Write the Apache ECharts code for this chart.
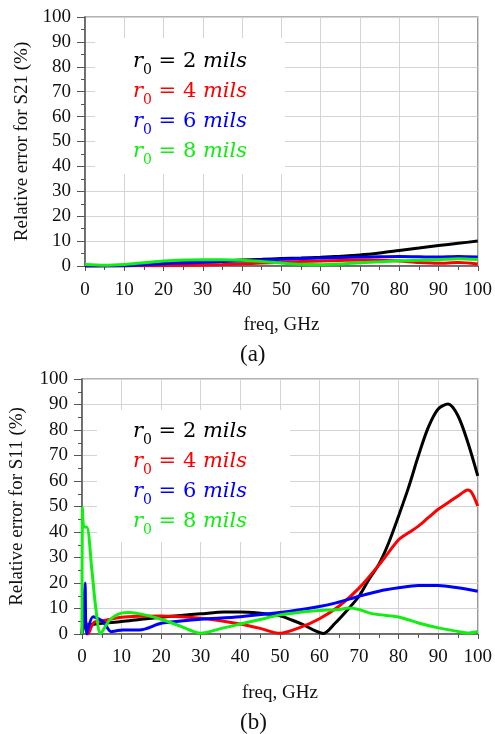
<!DOCTYPE html>
<html>
<head>
<meta charset="utf-8">
<script src="https://cdn.jsdelivr.net/npm/echarts@6/dist/echarts.min.js"></script>
<style>
html,body{margin:0;padding:0;background:#fff;}
#main{width:495px;height:734px;}
</style>
</head>
<body>
<div id="main"></div>
<script>
// ---------- DATA ----------
var seriesNames = ['r0 = 2 mils', 'r0 = 4 mils', 'r0 = 6 mils', 'r0 = 8 mils'];
var radiusLabels = ['2', '4', '6', '8'];
var seriesColors = ['#000000', '#ff0000', '#0000ff', '#11ee11'];
var xTicks = [0, 10, 20, 30, 40, 50, 60, 70, 80, 90, 100];

// (a) S21 relative error
var s21Freq = [0, 5, 10, 15, 20, 25, 30, 35, 40, 45, 50, 55, 60, 65, 70, 75, 80, 85, 90, 95, 100];
var s21_r2 = [0, 0.1, 0.3, 0.6, 1.0, 1.3, 1.6, 2.0, 2.4, 2.7, 3.0, 3.2, 3.5, 3.9, 4.4, 5.2, 6.2, 7.2, 8.2, 9.1, 10.0];
var s21_r4 = [0, 0, 0, 0.1, 0.2, 0.3, 0.4, 0.6, 0.9, 1.2, 1.5, 1.8, 2.0, 2.2, 2.4, 2.3, 2.0, 1.4, 1.1, 1.4, 0.8];
var s21_r6 = [0, 0, 0.1, 0.5, 0.9, 1.2, 1.5, 1.8, 2.1, 2.4, 2.7, 3.0, 3.2, 3.4, 3.6, 3.7, 3.8, 3.7, 3.6, 3.8, 3.6];
var s21_r8 = [0.6, 0.3, 0.6, 1.3, 2.0, 2.4, 2.5, 2.5, 2.3, 1.8, 1.2, 0.7, 0.5, 0.8, 1.3, 1.7, 2.1, 2.3, 2.5, 2.9, 2.6];

// (b) S11 relative error
var s11_r2_freq = [0, 0.5, 1, 3, 5, 10, 15, 20, 25, 30, 36, 40, 44.5, 50, 53, 56, 59, 61, 64, 67.5, 70, 72.5, 75, 77.5, 80, 82.5, 85, 87.5, 90, 92.5, 95, 97.5, 100];
var s11_r2 = [0, 3, 3.5, 3.8, 4.2, 4.9, 5.8, 6.6, 7.3, 7.9, 8.6, 8.6, 8.2, 7.1, 5.5, 3.6, 1.2, 0.2, 4.3, 10.2, 14.8, 21.4, 27.3, 35.8, 46.3, 57.4, 69.9, 81, 88.2, 90.2, 85.6, 75.1, 62];
var s11_r4_freq = [0, 0.4, 1, 1.5, 3, 5, 10, 15, 20, 25, 30, 35, 40, 45, 50, 55, 60, 65, 70, 75, 80, 82.5, 85, 87.5, 90, 92.5, 95, 97.5, 98.5, 100];
var s11_r4 = [0, 5.5, 4.5, 0, 4.5, 5.1, 6.6, 7, 7.1, 6.8, 6.2, 5.2, 3.9, 2.2, 0.3, 2.5, 6, 11, 18, 27, 37, 39.7, 42.3, 45.6, 48.9, 51.5, 54.1, 56.5, 55.4, 50.2];
var s11_r6_freq = [0, 0.75, 1.2, 2.8, 5.3, 7.4, 8.5, 10.3, 14.5, 20, 25, 30, 40, 50, 60, 64.2, 70, 75, 80, 85, 90, 95, 100];
var s11_r6 = [0, 20, 0, 6.8, 4.9, 0.9, 1.2, 1.6, 1.6, 4.2, 5.1, 5.8, 6.8, 8.4, 10.8, 12.2, 14.8, 16.8, 18.1, 19, 19, 18.1, 16.8];
var s11_r8_freq = [0, 0.1, 0.5, 1.2, 2.5, 3.5, 4.7, 7, 10, 12, 15, 20, 25, 30, 35, 40, 45, 50, 55, 60, 65, 67.5, 70, 72.5, 75, 80, 85, 90, 95, 97.5, 100];
var s11_r8 = [0, 49.5, 42, 42, 25, 10, 0.3, 5.5, 8.2, 8.4, 7.8, 5.8, 3, 0.3, 2.1, 3.9, 5.7, 7.5, 8.5, 9.2, 9.6, 10.2, 9.6, 8.3, 7.6, 6.7, 4.3, 2.4, 1, 0.4, 1];

// ---------- BUILD ----------
function pairs(xs, ys) { return xs.map(function (x, i) { return [x, ys[i]]; }); }

var topSets = [
  pairs(s21Freq, s21_r2), pairs(s21Freq, s21_r4), pairs(s21Freq, s21_r6), pairs(s21Freq, s21_r8)
];
var bottomSets = [
  pairs(s11_r2_freq, s11_r2), pairs(s11_r4_freq, s11_r4), pairs(s11_r6_freq, s11_r6), pairs(s11_r8_freq, s11_r8)
];

var serif = '"Liberation Serif", "Times New Roman", serif';
var mathFont = '"DejaVu Serif", serif';

function makeX(gi, gap, margin) {
  return {
    type: 'value', gridIndex: gi, min: 0, max: 100, interval: 10,
    name: 'freq, GHz', nameLocation: 'middle', nameGap: gap,
    nameTextStyle: { fontFamily: serif, fontSize: 19, color: '#111' },
    axisLine: { show: true, lineStyle: { color: '#555', width: 1.5 } },
    axisTick: { show: true, inside: false, length: 5, lineStyle: { color: '#555' } },
    minorTick: { show: true, splitNumber: 2, length: 4, lineStyle: { color: '#555' } },
    axisLabel: { fontFamily: serif, fontSize: 19, color: '#111', margin: margin,
      formatter: function (v) { return xTicks.indexOf(v) >= 0 ? String(v) : ''; } },
    splitLine: { show: true, lineStyle: { color: '#d4d4d4', width: 1 } }
  };
}
function makeY(gi, name, gap) {
  return {
    type: 'value', gridIndex: gi, min: 0, max: 100, interval: 10,
    name: name, nameLocation: 'middle', nameGap: gap, nameRotate: 90,
    nameTextStyle: { fontFamily: serif, fontSize: 19, color: '#111' },
    axisLine: { show: true, lineStyle: { color: '#555', width: 1.5 } },
    axisTick: { show: true, inside: false, length: 8, lineStyle: { color: '#555' } },
    minorTick: { show: true, splitNumber: 2, length: 4, lineStyle: { color: '#555' } },
    axisLabel: { fontFamily: serif, fontSize: 19, color: '#111', margin: 14 },
    splitLine: { show: true, lineStyle: { color: '#d4d4d4', width: 1 } }
  };
}

var rich = {
  i: { fontFamily: mathFont, fontStyle: 'italic', fontSize: 21, lineHeight: 30 },
  n: { fontFamily: mathFont, fontSize: 21, lineHeight: 30 },
  s: { fontFamily: mathFont, fontSize: 14, lineHeight: 16, verticalAlign: 'bottom' }
};
function legendFormatter(name) {
  var k = seriesNames.indexOf(name);
  return '{i|r}{s|0}{n| = ' + radiusLabels[k] + ' }{i|mils}';
}
function makeLegend(left, top, padding) {
  return {
    orient: 'vertical', left: left, top: top, padding: padding,
    backgroundColor: '#ffffff', itemWidth: 0, itemHeight: 0, itemGap: 0,
    selectedMode: false,
    formatter: legendFormatter,
    textStyle: { rich: rich, lineHeight: 30 },
    data: seriesNames.map(function (n, k) { return { name: n, icon: 'none', textStyle: { color: seriesColors[k] } }; })
  };
}

var series = [];
[topSets, bottomSets].forEach(function (sets, gi) {
  sets.forEach(function (d, k) {
    series.push({
      type: 'line', name: seriesNames[k], xAxisIndex: gi, yAxisIndex: gi,
      data: d, showSymbol: false, smooth: 0.3,
      lineStyle: { color: seriesColors[k], width: 3 }, itemStyle: { color: seriesColors[k] },
      z: 2 + k, animation: false
    });
  });
});

var option = {
  animation: false,
  backgroundColor: '#ffffff',
  grid: [
    { left: 85, right: 16, top: 17, height: 249, show: true, borderColor: '#999', borderWidth: 1.5, backgroundColor: 'transparent' },
    { left: 82, right: 12, top: 379, height: 255, show: true, borderColor: '#999', borderWidth: 1.5, backgroundColor: 'transparent' }
  ],
  xAxis: [makeX(0, 50, 15), makeX(1, 50, 14)],
  yAxis: [makeY(0, 'Relative error for S21 (%)', 53), makeY(1, 'Relative error for S11 (%)', 55)],
  legend: [makeLegend(95, 38, [9, 38, 7, 33]), makeLegend(97, 410, [7, 43, 5, 31])],
  graphic: [
    { type: 'text', left: 240, top: 343, style: { text: '(a)', font: '23px ' + serif, fill: '#111' } },
    { type: 'text', left: 240, top: 711, style: { text: '(b)', font: '23px ' + serif, fill: '#111' } }
  ],
  series: series
};

var chart = echarts.init(document.getElementById('main'), null, { renderer: 'canvas' });
chart.setOption(option);
</script>
</body>
</html>
